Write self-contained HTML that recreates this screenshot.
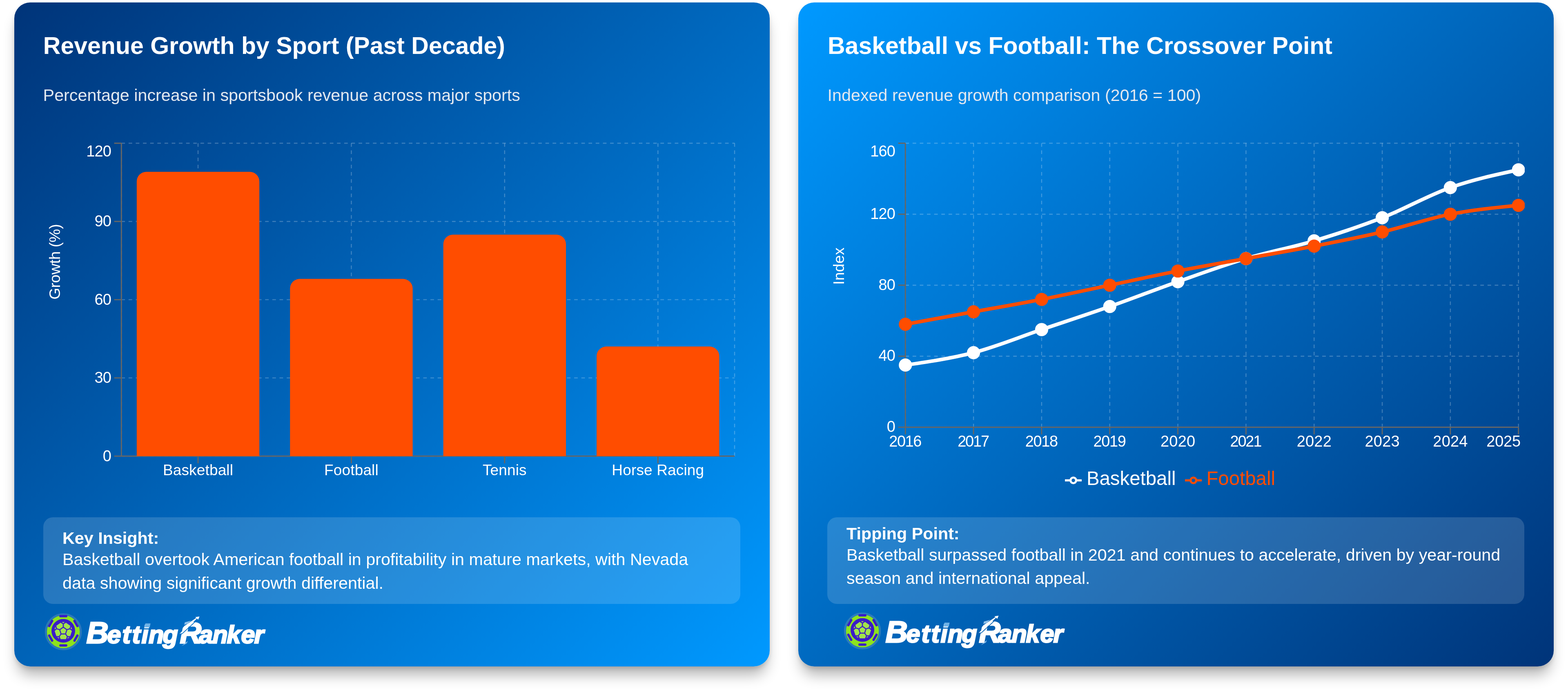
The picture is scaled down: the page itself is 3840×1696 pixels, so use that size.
<!DOCTYPE html>
<html lang="en"><head><meta charset="utf-8">
<title>Revenue Growth by Sport</title>
<style>
html,body{margin:0;padding:0;background:#fff;}
body{width:3840px;height:1696px;position:relative;overflow:hidden;font-family:"Liberation Sans",Arial,Helvetica,sans-serif;color:#fff;}
.card{position:absolute;top:6px;width:1850px;height:1624.5px;border-radius:39px;box-shadow:0 28px 34px -8px rgba(0,0,0,0.3), 0 6px 12px -2px rgba(0,0,0,0.14);}
.c1{left:35px;background:linear-gradient(135deg,#003479 0%,#0099ff 100%);}
.c2{left:1955px;background:linear-gradient(135deg,#0099ff 0%,#003479 100%);}
.in{position:absolute;left:0.5px;top:0;width:1849px;height:1624.5px;}
.card h2{position:absolute;margin:0;left:70.3px;top:70.6px;font-size:59.0px;line-height:70px;font-weight:700;white-space:nowrap;color:#fff;}
.card .sub{position:absolute;margin:0;left:70.1px;top:202.1px;font-size:41.3px;line-height:50px;font-weight:400;white-space:nowrap;color:#e2e8f0;}
.chart{position:absolute;left:70.5px;top:324px;width:1707.5px;height:900px;overflow:hidden;display:block;}
.chart text{font-family:"Liberation Sans",Arial,sans-serif;font-size:35.2px;fill:#fff;}
.chart text.num{font-size:38px;}
.legend{position:absolute;left:652.5px;top:1135.9px;height:58px;margin:0;padding:0;list-style:none;text-align:left;font-size:47.4px;line-height:58px;white-space:nowrap;}
.legend li{display:inline-block;margin-right:22px;vertical-align:top;}
.legend li svg{display:inline-block;vertical-align:middle;margin-right:11.7px;width:41.2px;height:41.2px;position:relative;top:1.2px;}
.insight{position:absolute;left:70.75px;top:1259.75px;width:1707px;height:211.75px;border-radius:23.5px;background:rgba(255,255,255,0.15);}
.insight strong{position:absolute;left:46.8px;font-size:41.27px;line-height:50px;font-weight:700;white-space:nowrap;}
.insight p{position:absolute;margin:0;left:46.8px;width:1613px;font-size:41.27px;line-height:57.25px;font-weight:400;}
.logo{position:absolute;width:600px;height:120px;display:block;overflow:visible;}

</style></head><body>
<section class="card c1"><div class="in">
<h2>Revenue Growth by Sport (Past Decade)</h2>
<p class="sub">Percentage increase in sportsbook revenue across major sports</p>
<svg class="chart" role="img" aria-label="Bar chart of revenue growth by sport" viewBox="70.5 324 1707.5 900" preserveAspectRatio="none"><g fill="none" stroke="rgba(255,255,255,0.24)" stroke-width="2.4" stroke-dasharray="8.8 8.8"><line x1="261.8" y1="1110.3" x2="1763.5" y2="1110.3"/><line x1="261.8" y1="918.85" x2="1763.5" y2="918.85"/><line x1="261.8" y1="727.4" x2="1763.5" y2="727.4"/><line x1="261.8" y1="535.95" x2="1763.5" y2="535.95"/><line x1="261.8" y1="344.5" x2="1763.5" y2="344.5"/><line x1="261.8" y1="344.5" x2="261.8" y2="1110.3"/><line x1="449.51" y1="344.5" x2="449.51" y2="1110.3"/><line x1="824.94" y1="344.5" x2="824.94" y2="1110.3"/><line x1="1200.36" y1="344.5" x2="1200.36" y2="1110.3"/><line x1="1575.79" y1="344.5" x2="1575.79" y2="1110.3"/><line x1="1763.5" y1="344.5" x2="1763.5" y2="1110.3"/></g><g fill="none" stroke="#666666" stroke-width="2.93"><line x1="261.8" y1="1110.3" x2="1763.5" y2="1110.3"/><line x1="449.51" y1="1110.3" x2="449.51" y2="1127.9"/><line x1="824.94" y1="1110.3" x2="824.94" y2="1127.9"/><line x1="1200.36" y1="1110.3" x2="1200.36" y2="1127.9"/><line x1="1575.79" y1="1110.3" x2="1575.79" y2="1127.9"/><line x1="261.8" y1="344.5" x2="261.8" y2="1110.3"/><line x1="244.2" y1="1110.3" x2="261.8" y2="1110.3"/><line x1="244.2" y1="918.85" x2="261.8" y2="918.85"/><line x1="244.2" y1="727.4" x2="261.8" y2="727.4"/><line x1="244.2" y1="535.95" x2="261.8" y2="535.95"/><line x1="244.2" y1="344.5" x2="261.8" y2="344.5"/></g><g fill="#ff4d00"><path d="M299.34,1110.3V437.97A23.47,23.47,0,0,1,322.81,414.5H576.22A23.47,23.47,0,0,1,599.68,437.97V1110.3Z"/><path d="M674.77,1110.3V700.07A23.47,23.47,0,0,1,698.23,676.6H951.64A23.47,23.47,0,0,1,975.11,700.07V1110.3Z"/><path d="M1050.19,1110.3V591.67A23.47,23.47,0,0,1,1073.66,568.2H1327.07A23.47,23.47,0,0,1,1350.53,591.67V1110.3Z"/><path d="M1425.62,1110.3V865.57A23.47,23.47,0,0,1,1449.08,842.1H1702.49A23.47,23.47,0,0,1,1725.96,865.57V1110.3Z"/></g><g text-anchor="middle" font-size="37" letter-spacing="0.15"><text x="449.51" y="1157" style="font-size:37px">Basketball</text><text x="824.94" y="1157" style="font-size:37px">Football</text><text x="1200.36" y="1157" style="font-size:37px">Tennis</text><text x="1575.79" y="1157" style="font-size:37px">Horse Racing</text></g><g text-anchor="end" letter-spacing="-0.8"><text class="num" x="236.7" y="1122.7">0</text><text class="num" x="236.7" y="931.25">30</text><text class="num" x="236.7" y="739.8">60</text><text class="num" x="236.7" y="548.35">90</text><text class="num" x="236.7" y="376.7">120</text></g><text transform="rotate(-90 111 727)" x="111" y="727" style="font-size:37px" letter-spacing="-0.25">Growth (%)</text></svg>
<div class="insight" id="ins1"><strong style="top:25.75px">Key Insight:</strong><p style="top:75.6px">Basketball overtook American football in profitability in mature markets, with Nevada data showing significant growth differential.</p></div>
<svg class="logo" style="left:64.5px;top:1484px" viewBox="0 0 600 120" role="img" aria-label="BettingRanker"><circle cx="55.1" cy="56.1" r="43" fill="none" stroke="rgba(150,170,190,0.3)" stroke-width="4.4"/><circle cx="55.1" cy="56.1" r="40.4" fill="#8de21e"/><rect x="45.1" y="15.05" width="19.8" height="5.8" rx="2.4" fill="#3b1bc8" transform="rotate(0 55.0 53.75)"/><rect x="45.1" y="15.05" width="19.8" height="5.8" rx="2.4" fill="#3b1bc8" transform="rotate(60 55.0 53.75)"/><rect x="45.1" y="15.05" width="19.8" height="5.8" rx="2.4" fill="#3b1bc8" transform="rotate(120 55.0 53.75)"/><rect x="45.1" y="15.05" width="19.8" height="5.8" rx="2.4" fill="#3b1bc8" transform="rotate(180 55.0 53.75)"/><rect x="45.1" y="15.05" width="19.8" height="5.8" rx="2.4" fill="#3b1bc8" transform="rotate(240 55.0 53.75)"/><rect x="45.1" y="15.05" width="19.8" height="5.8" rx="2.4" fill="#3b1bc8" transform="rotate(300 55.0 53.75)"/><circle cx="55.0" cy="53.75" r="28.8" fill="#3b1bc8"/><path d="M55,44.75L63.84,51.18L60.47,61.57L49.53,61.57L46.16,51.18ZM55,44.75L55,36.85L61.61,32.44L73.51,41.09L71.36,48.73L63.84,51.18ZM55,36.85L47.95,31L62.05,31ZM63.84,51.18L71.36,48.73L77.6,53.66L73.05,67.65L65.11,67.97L60.47,61.57ZM71.36,48.73L74.74,40.23L79.1,53.63ZM60.47,61.57L65.11,67.97L62.36,75.42L47.64,75.42L44.89,67.97L49.53,61.57ZM65.11,67.97L74.25,68.55L62.85,76.84ZM49.53,61.57L44.89,67.97L36.95,67.65L32.4,53.66L38.64,48.73L46.16,51.18ZM44.89,67.97L47.15,76.84L35.75,68.55ZM46.16,51.18L38.64,48.73L36.49,41.09L48.39,32.44L55,36.85L55,44.75ZM38.64,48.73L30.9,53.63L35.26,40.23Z" fill="#a2e54a" stroke="#3b1bc8" stroke-width="2.5" stroke-linejoin="round"/><circle cx="55.0" cy="53.75" r="25.3" fill="none" stroke="#3b1bc8" stroke-width="7"/><defs><clipPath id="rk645"><path clip-rule="evenodd" d="M0,0H600V120H0ZM345.6,62.6L382.6,28.6L381.4,27.3L344.4,61.3ZM336,18H371V29.6L351.5,42.6L346,48L336,48Z"/></clipPath></defs><text clip-path="url(#rk645)" font-family="'Liberation Sans',Arial,sans-serif" font-weight="700" font-style="italic" fill="#fff" stroke="#fff" stroke-width="3" stroke-linejoin="miter" y="84.1"><tspan x="111.5" font-size="75">B</tspan><tspan x="162.5 199.6 223.6 246.5 264 298.5" font-size="61">etting</tspan><tspan x="340.5" font-size="73">R</tspan><tspan x="387.5 420.5 455.5 490.5 522.5" font-size="61">anker</tspan></text><path d="M256,35.8h12.6l-2,9.8h-12.6z" fill="#6fb2e6"/><path d="M352.6,33.1L368.3,29L359,36.8L351.2,39.1Z" fill="#8fc0ea"/><path d="M344.7,91.3L359.5,78.8L357.9,83.9L349.8,88.5Z" fill="#8fc0ea"/><path d="M339.7,61.2L351.2,49.2V42.2L380.6,22.3L382,24L344.6,59.8Z" fill="#fff"/><path d="M388.6,18.8L378.2,20.2L381.8,23.4L385.3,26.6Z" fill="#fff"/></svg>
</div></section>
<section class="card c2"><div class="in">
<h2 style="left:71.5px">Basketball vs Football: The Crossover Point</h2>
<p class="sub" style="left:71px">Indexed revenue growth comparison (2016 = 100)</p>
<svg class="chart" role="img" aria-label="Line chart comparing basketball and football indexed revenue" viewBox="70.5 324 1707.5 900" preserveAspectRatio="none"><g fill="none" stroke="rgba(255,255,255,0.24)" stroke-width="2.4" stroke-dasharray="8.8 8.8"><line x1="261.8" y1="1039.5" x2="1763.2" y2="1039.5"/><line x1="261.8" y1="865.75" x2="1763.2" y2="865.75"/><line x1="261.8" y1="692" x2="1763.2" y2="692"/><line x1="261.8" y1="518.25" x2="1763.2" y2="518.25"/><line x1="261.8" y1="344.5" x2="1763.2" y2="344.5"/><line x1="261.8" y1="344.5" x2="261.8" y2="1039.5"/><line x1="428.62" y1="344.5" x2="428.62" y2="1039.5"/><line x1="595.44" y1="344.5" x2="595.44" y2="1039.5"/><line x1="762.27" y1="344.5" x2="762.27" y2="1039.5"/><line x1="929.09" y1="344.5" x2="929.09" y2="1039.5"/><line x1="1095.91" y1="344.5" x2="1095.91" y2="1039.5"/><line x1="1262.73" y1="344.5" x2="1262.73" y2="1039.5"/><line x1="1429.56" y1="344.5" x2="1429.56" y2="1039.5"/><line x1="1596.38" y1="344.5" x2="1596.38" y2="1039.5"/><line x1="1763.2" y1="344.5" x2="1763.2" y2="1039.5"/></g><g fill="none" stroke="#666666" stroke-width="2.93"><line x1="261.8" y1="1039.5" x2="1763.2" y2="1039.5"/><line x1="261.8" y1="1039.5" x2="261.8" y2="1057.1"/><line x1="428.62" y1="1039.5" x2="428.62" y2="1057.1"/><line x1="595.44" y1="1039.5" x2="595.44" y2="1057.1"/><line x1="762.27" y1="1039.5" x2="762.27" y2="1057.1"/><line x1="929.09" y1="1039.5" x2="929.09" y2="1057.1"/><line x1="1095.91" y1="1039.5" x2="1095.91" y2="1057.1"/><line x1="1262.73" y1="1039.5" x2="1262.73" y2="1057.1"/><line x1="1429.56" y1="1039.5" x2="1429.56" y2="1057.1"/><line x1="1596.38" y1="1039.5" x2="1596.38" y2="1057.1"/><line x1="1763.2" y1="1039.5" x2="1763.2" y2="1057.1"/><line x1="261.8" y1="344.5" x2="261.8" y2="1039.5"/><line x1="244.2" y1="1039.5" x2="261.8" y2="1039.5"/><line x1="244.2" y1="865.75" x2="261.8" y2="865.75"/><line x1="244.2" y1="692" x2="261.8" y2="692"/><line x1="244.2" y1="518.25" x2="261.8" y2="518.25"/><line x1="244.2" y1="344.5" x2="261.8" y2="344.5"/></g><g text-anchor="middle"><text class="num" x="261.8" y="1086.7" textLength="80" lengthAdjust="spacing">2016</text><text class="num" x="428.62" y="1086.7" textLength="77.8" lengthAdjust="spacing">2017</text><text class="num" x="595.44" y="1086.7" textLength="80.3" lengthAdjust="spacing">2018</text><text class="num" x="762.27" y="1086.7" textLength="80.3" lengthAdjust="spacing">2019</text><text class="num" x="929.09" y="1086.7" textLength="85.2" lengthAdjust="spacing">2020</text><text class="num" x="1095.91" y="1086.7" textLength="77.8" lengthAdjust="spacing">2021</text><text class="num" x="1262.73" y="1086.7" textLength="85.2" lengthAdjust="spacing">2022</text><text class="num" x="1429.56" y="1086.7" textLength="85.3" lengthAdjust="spacing">2023</text><text class="num" x="1596.38" y="1086.7" textLength="85.1" lengthAdjust="spacing">2024</text><text class="num" x="1726.7" y="1086.7" textLength="84.1" lengthAdjust="spacing">2025</text></g><g text-anchor="end" letter-spacing="-0.8"><text class="num" x="236.7" y="1051">0</text><text class="num" x="236.7" y="877.25">40</text><text class="num" x="236.7" y="703.5">80</text><text class="num" x="236.7" y="529.75">120</text><text class="num" x="236.7" y="376.7">160</text></g><text transform="rotate(-90 111 691)" x="111" y="691" style="font-size:37px" letter-spacing="0.2">Index</text><path fill="none" stroke="#ffffff" stroke-width="8.8" d="M261.8,887.47C317.41,879.51,373.01,871.54,428.62,857.06C484.23,842.58,539.84,819.42,595.44,800.59C651.05,781.77,706.66,763.67,762.27,744.12C817.87,724.58,873.48,702.86,929.09,683.31C984.7,663.77,1040.3,643.49,1095.91,626.84C1151.52,610.19,1207.13,600.06,1262.73,583.41C1318.34,566.76,1373.95,548.66,1429.56,526.94C1485.16,505.22,1540.77,472.64,1596.38,453.09C1651.99,433.55,1707.59,421.6,1763.2,409.66"/><g fill="#ffffff"><circle cx="261.8" cy="887.47" r="16.1"/><circle cx="428.62" cy="857.06" r="16.1"/><circle cx="595.44" cy="800.59" r="16.1"/><circle cx="762.27" cy="744.12" r="16.1"/><circle cx="929.09" cy="683.31" r="16.1"/><circle cx="1095.91" cy="626.84" r="16.1"/><circle cx="1262.73" cy="583.41" r="16.1"/><circle cx="1429.56" cy="526.94" r="16.1"/><circle cx="1596.38" cy="453.09" r="16.1"/><circle cx="1763.2" cy="409.66" r="16.1"/></g><path fill="none" stroke="#ff4d00" stroke-width="8.8" d="M261.8,787.56C317.41,777.43,373.01,767.29,428.62,757.16C484.23,747.02,539.84,737.61,595.44,726.75C651.05,715.89,706.66,703.58,762.27,692C817.87,680.42,873.48,668.11,929.09,657.25C984.7,646.39,1040.3,636.98,1095.91,626.84C1151.52,616.71,1207.13,607.3,1262.73,596.44C1318.34,585.58,1373.95,574.72,1429.56,561.69C1485.16,548.66,1540.77,529.11,1596.38,518.25C1651.99,507.39,1707.59,501.96,1763.2,496.53"/><g fill="#ff4d00"><circle cx="261.8" cy="787.56" r="16.1"/><circle cx="428.62" cy="757.16" r="16.1"/><circle cx="595.44" cy="726.75" r="16.1"/><circle cx="762.27" cy="692" r="16.1"/><circle cx="929.09" cy="657.25" r="16.1"/><circle cx="1095.91" cy="626.84" r="16.1"/><circle cx="1262.73" cy="596.44" r="16.1"/><circle cx="1429.56" cy="561.69" r="16.1"/><circle cx="1596.38" cy="518.25" r="16.1"/><circle cx="1763.2" cy="496.53" r="16.1"/></g></svg>
<ul class="legend"><li style="color:#fff"><svg viewBox="0 0 32 32" aria-hidden="true"><path fill="none" stroke="#fff" stroke-width="4" d="M0,16h10.667A5.333,5.333,0,1,1,21.333,16H32M21.333,16A5.333,5.333,0,1,1,10.667,16"/></svg><span>Basketball</span></li><li style="color:#ff4d00;margin-right:0"><svg viewBox="0 0 32 32" aria-hidden="true"><path fill="none" stroke="#ff4d00" stroke-width="4" d="M0,16h10.667A5.333,5.333,0,1,1,21.333,16H32M21.333,16A5.333,5.333,0,1,1,10.667,16"/></svg><span>Football</span></li></ul>
<div class="insight" id="ins2"><strong style="top:15.25px">Tipping Point:</strong><p style="top:64.35px">Basketball surpassed football in 2021 and continues to accelerate, driven by year-round season and international appeal.</p></div>
<svg class="logo" style="left:101.6px;top:1481.6px" viewBox="0 0 600 120" role="img" aria-label="BettingRanker"><circle cx="55.1" cy="56.1" r="43" fill="none" stroke="rgba(150,170,190,0.3)" stroke-width="4.4"/><circle cx="55.1" cy="56.1" r="40.4" fill="#8de21e"/><rect x="45.1" y="15.05" width="19.8" height="5.8" rx="2.4" fill="#3b1bc8" transform="rotate(0 55.0 53.75)"/><rect x="45.1" y="15.05" width="19.8" height="5.8" rx="2.4" fill="#3b1bc8" transform="rotate(60 55.0 53.75)"/><rect x="45.1" y="15.05" width="19.8" height="5.8" rx="2.4" fill="#3b1bc8" transform="rotate(120 55.0 53.75)"/><rect x="45.1" y="15.05" width="19.8" height="5.8" rx="2.4" fill="#3b1bc8" transform="rotate(180 55.0 53.75)"/><rect x="45.1" y="15.05" width="19.8" height="5.8" rx="2.4" fill="#3b1bc8" transform="rotate(240 55.0 53.75)"/><rect x="45.1" y="15.05" width="19.8" height="5.8" rx="2.4" fill="#3b1bc8" transform="rotate(300 55.0 53.75)"/><circle cx="55.0" cy="53.75" r="28.8" fill="#3b1bc8"/><path d="M55,44.75L63.84,51.18L60.47,61.57L49.53,61.57L46.16,51.18ZM55,44.75L55,36.85L61.61,32.44L73.51,41.09L71.36,48.73L63.84,51.18ZM55,36.85L47.95,31L62.05,31ZM63.84,51.18L71.36,48.73L77.6,53.66L73.05,67.65L65.11,67.97L60.47,61.57ZM71.36,48.73L74.74,40.23L79.1,53.63ZM60.47,61.57L65.11,67.97L62.36,75.42L47.64,75.42L44.89,67.97L49.53,61.57ZM65.11,67.97L74.25,68.55L62.85,76.84ZM49.53,61.57L44.89,67.97L36.95,67.65L32.4,53.66L38.64,48.73L46.16,51.18ZM44.89,67.97L47.15,76.84L35.75,68.55ZM46.16,51.18L38.64,48.73L36.49,41.09L48.39,32.44L55,36.85L55,44.75ZM38.64,48.73L30.9,53.63L35.26,40.23Z" fill="#a2e54a" stroke="#3b1bc8" stroke-width="2.5" stroke-linejoin="round"/><circle cx="55.0" cy="53.75" r="25.3" fill="none" stroke="#3b1bc8" stroke-width="7"/><defs><clipPath id="rk1015"><path clip-rule="evenodd" d="M0,0H600V120H0ZM345.6,62.6L382.6,28.6L381.4,27.3L344.4,61.3ZM336,18H371V29.6L351.5,42.6L346,48L336,48Z"/></clipPath></defs><text clip-path="url(#rk1015)" font-family="'Liberation Sans',Arial,sans-serif" font-weight="700" font-style="italic" fill="#fff" stroke="#fff" stroke-width="3" stroke-linejoin="miter" y="84.1"><tspan x="111.5" font-size="75">B</tspan><tspan x="162.5 199.6 223.6 246.5 264 298.5" font-size="61">etting</tspan><tspan x="340.5" font-size="73">R</tspan><tspan x="387.5 420.5 455.5 490.5 522.5" font-size="61">anker</tspan></text><path d="M256,35.8h12.6l-2,9.8h-12.6z" fill="#6fb2e6"/><path d="M352.6,33.1L368.3,29L359,36.8L351.2,39.1Z" fill="#8fc0ea"/><path d="M344.7,91.3L359.5,78.8L357.9,83.9L349.8,88.5Z" fill="#8fc0ea"/><path d="M339.7,61.2L351.2,49.2V42.2L380.6,22.3L382,24L344.6,59.8Z" fill="#fff"/><path d="M388.6,18.8L378.2,20.2L381.8,23.4L385.3,26.6Z" fill="#fff"/></svg>
</div></section>
</body></html>
